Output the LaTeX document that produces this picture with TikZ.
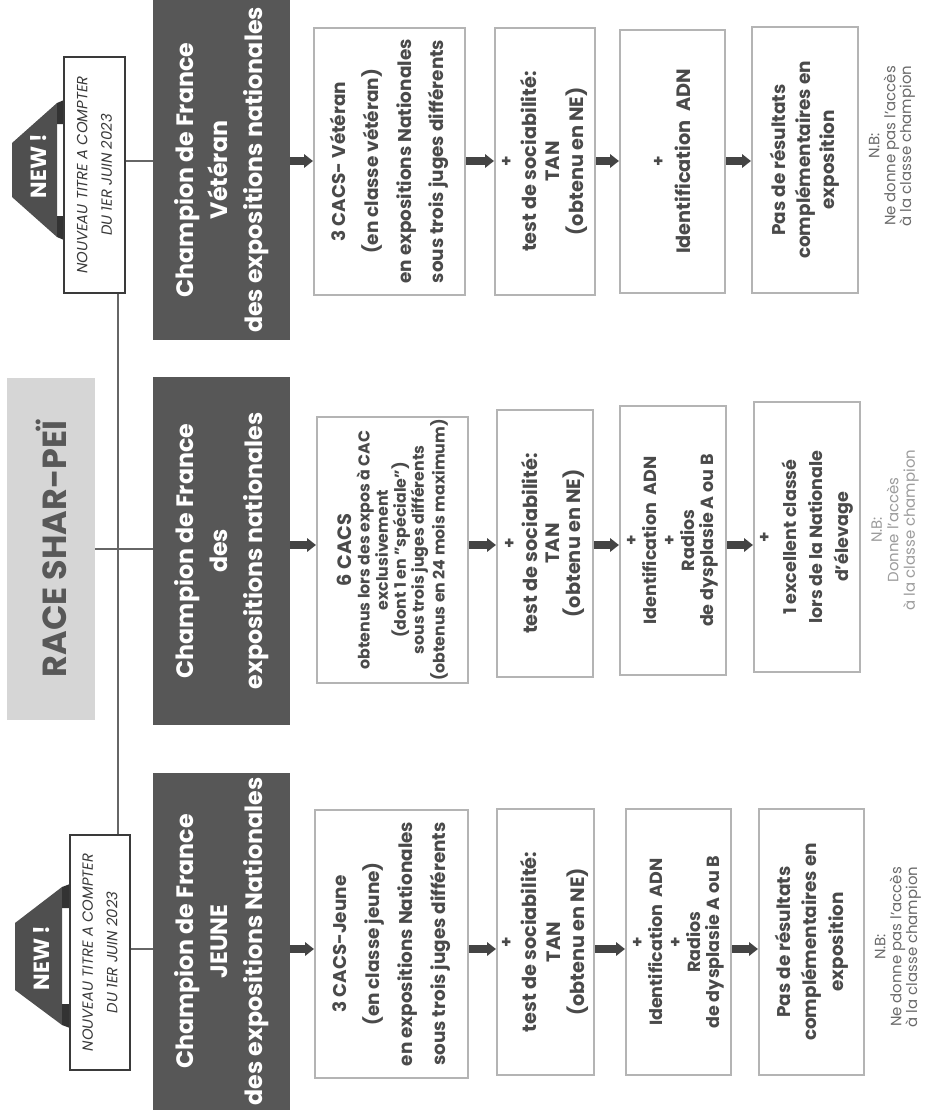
\documentclass[tikz,border=0pt]{standalone}
\usepackage{fontspec}
\setmainfont{Poppins}
\usetikzlibrary{arrows.meta}

\definecolor{champfill}{HTML}{575757}
\definecolor{critline}{HTML}{B4B4B4}
\definecolor{crittext}{HTML}{4A4A4A}
\definecolor{racefill}{HTML}{D6D6D6}
\definecolor{racetext}{HTML}{585858}
\definecolor{linkgray}{HTML}{666666}
\definecolor{flowgray}{HTML}{444444}
\definecolor{tagfill}{HTML}{4F4F4F}
\definecolor{tagfold}{HTML}{333333}
\definecolor{newline}{HTML}{3A3A3A}
\definecolor{nbdark}{HTML}{6A6A6A}
\definecolor{nbpale}{HTML}{9C9C9C}

\newcommand\fs[2]{\fontsize{#1}{#2}\selectfont}
\newcommand\plus{{\fs{9.5}{10}+}}

\begin{document}
\begin{tikzpicture}[x=0.02cm,y=-0.02cm,
		champ/.style={rotate=90,fill=champfill,text=white,align=center,inner sep=0pt,
			minimum height=2.74cm,font=\bfseries\fs{13.5}{19.5}},
		crit/.style={rotate=90,draw=critline,line width=1.2pt,fill=white,text=crittext,
			align=center,inner sep=0pt,font=\bfseries\fs{10.5}{14}},
		newbox/.style={rotate=90,draw=newline,line width=0.9pt,fill=white,text=newline,
			align=center,inner sep=0pt,font=\itshape\fs{8.4}{14}},
		racebox/.style={rotate=90,fill=racefill,text=racetext,inner sep=0pt,
			font=\bfseries\fs{19}{22}},
		tagtext/.style={rotate=90,text=white,inner sep=0pt,font=\bfseries\fs{12.5}{14}},
		nbnote/.style={rotate=90,text=nbdark,align=center,inner sep=0pt,font=\fs{8.5}{9}},
		link/.style={draw=linkgray,line width=1.6pt},
		flow/.style={draw=flowgray,line width=4pt,-{Triangle[length=5pt,width=7.5pt]}}]
		\fill[white] (0,0) rectangle (926,1117);
		\useasboundingbox (0,0) rectangle (926,1117);

		\fill[tagfill] (12,143) -- (57,103) -- (57,237) -- (12,197) -- cycle;
		\fill[tagfold] (57,103) -- (64,100) -- (64,124) -- (57,124) -- cycle;
		\fill[tagfold] (57,237) -- (64,240) -- (64,216) -- (57,216) -- cycle;
		\fill[tagfill] (15,923) -- (62,887) -- (62,1025) -- (15,990) -- cycle;
		\fill[tagfold] (62,887) -- (70,884) -- (70,908) -- (62,908) -- cycle;
		\fill[tagfold] (62,1025) -- (70,1028) -- (70,1004) -- (62,1004) -- cycle;
		\node[tagtext] (tagV) at (39,166) {NEW !};
		\node[tagtext] (tagJ) at (42,958) {NEW !};

		\node[racebox,minimum width=6.84cm,minimum height=1.76cm] (race) at (51,549) {RACE SHAR-PEÏ};
		\node[newbox,minimum width=4.72cm,minimum height=1.22cm] (newV) at (94.5,175) {NOUVEAU TITRE A COMPTER\\DU 1ER JUIN 2023};
		\node[newbox,minimum width=4.7cm,minimum height=1.2cm] (newJ) at (100,952.5) {NOUVEAU TITRE A COMPTER\\DU 1ER JUIN 2023};

		\node[champ,minimum width=6.8cm] (champV) at (221.5,170) {Champion de France\\Vétéran\\des expositions nationales};
		\node[champ,minimum width=6.96cm] (champN) at (221.5,551) {Champion de France\\des\\expositions nationales};
		\node[champ,minimum width=6.74cm] (champJ) at (221.5,941.5) {Champion de France\\JEUNE\\des expositions Nationales};

		\node[crit,minimum width=5.34cm,minimum height=3.02cm,font=\bfseries\fs{10.5}{18.7}] (cacsV) at (389.5,161.5) {3 CACS- Vétéran\\(en classe vétéran)\\en expositions Nationales\\sous trois juges différents};
		\node[crit,minimum width=5.34cm,minimum height=2cm,font=\bfseries\fs{11}{13.6}] (tanV) at (545,161.5) {\plus\\test de sociabilité:\\TAN\\(obtenu en NE)};
		\node[crit,minimum width=5.26cm,minimum height=2.1cm,font=\bfseries\fs{11}{15}] (adnV) at (672.5,161.5) {\plus\\Identification\ \ ADN};
		\node[crit,minimum width=5.32cm,minimum height=2.12cm] (resV) at (805,160) {Pas de résultats\\complémentaires en\\exposition};
		\node[nbnote] (nbV) at (892,146) {N.B:\\Ne donne pas l'accès\\à la classe champion};

		\node[crit,minimum width=5.32cm,minimum height=3.02cm,font=\bfseries\fs{9}{10.3}] (cacsN) at (392.5,550) {{\fs{11}{12}6 CACS}\\obtenus lors des expos à CAC\\exclusivement\\(dont 1 en "spéciale")\\sous trois juges différents\\(obtenus en 24 mois maximum)};
		\node[crit,minimum width=5.34cm,minimum height=1.92cm,font=\bfseries\fs{11}{12.5}] (tanN) at (545,543.5) {\plus\\test de sociabilité:\\TAN\\(obtenu en NE)};
		\node[crit,minimum width=5.38cm,minimum height=2.12cm,font=\bfseries\fs{10}{10.8}] (adnN) at (673,540.5) {\plus\\Identification\ \ ADN\\\plus\\Radios\\de dysplasie A ou B};
		\node[crit,minimum width=5.4cm,minimum height=2.12cm,font=\bfseries\fs{10}{14.7}] (resN) at (807,537) {\plus\\1 excellent classé\\lors de la Nationale\\d'élevage};
		\node[nbnote,text=nbpale,font=\fs{8.5}{9.4}] (nbN) at (895,530) {N.B:\\Donne l'accès\\à la classe champion};

		\node[crit,minimum width=5.36cm,minimum height=3.06cm,font=\bfseries\fs{10.5}{18.7}] (cacsJ) at (391.5,944) {3 CACS-Jeune\\(en classe jeune)\\en expositions Nationales\\sous trois juges différents};
		\node[crit,minimum width=5.32cm,minimum height=1.94cm,font=\bfseries\fs{11}{13.6}] (tanJ) at (545.5,942) {\plus\\test de sociabilité:\\TAN\\(obtenu en NE)};
		\node[crit,minimum width=5.32cm,minimum height=2.1cm,font=\bfseries\fs{10}{10.8}] (adnJ) at (678.5,942) {\plus\\Identification\ \ ADN\\\plus\\Radios\\de dysplasie A ou B};
		\node[crit,minimum width=5.32cm,minimum height=2.1cm,font=\bfseries\fs{10.5}{15}] (resJ) at (811.5,942) {Pas de résultats\\complémentaires en\\exposition};
		\node[nbnote] (nbJ) at (898,947) {N.B:\\Ne donne pas l'accès\\à la classe champion};

		\coordinate (rowV) at (0,161);
		\coordinate (rowN) at (0,545);
		\coordinate (rowJ) at (0,949);
		\coordinate (spine) at (118,553);

		\draw[link] (newV.south |- rowV) -- (champV.north |- rowV);
		\draw[link] (newV.west -| spine) -- (newJ.east -| spine);
		\draw[link] (race.south) -- (race.south -| champN.north);
		\draw[link] (newJ.south |- rowJ) -- (champJ.north |- rowJ);

		\foreach \r in {V,N,J} {
			\draw[flow] (champ\r.south |- row\r) -- (cacs\r.north |- row\r);
			\draw[flow] (cacs\r.south |- row\r) -- (tan\r.north |- row\r);
			\draw[flow] (tan\r.south |- row\r) -- (adn\r.north |- row\r);
			\draw[flow] (adn\r.south |- row\r) -- (res\r.north |- row\r);
		}
\end{tikzpicture}
\end{document}
